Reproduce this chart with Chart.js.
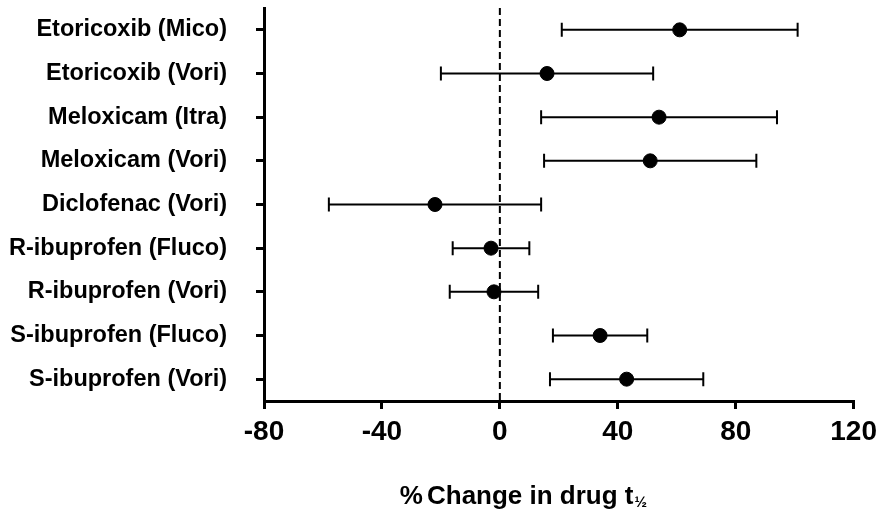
<!DOCTYPE html>
<html>
<head>
<meta charset="utf-8">
<script src="https://cdn.jsdelivr.net/npm/chart.js@4.4.1/dist/chart.umd.min.js"></script>
<style>
  html, body { margin: 0; padding: 0; background: #fff; }
  #wrap { width: 883px; height: 511px; }
</style>
</head>
<body>
<div id="wrap"><canvas id="forest"></canvas></div>
<script>
const labels = [
  'Etoricoxib (Mico)',
  'Etoricoxib (Vori)',
  'Meloxicam (Itra)',
  'Meloxicam (Vori)',
  'Diclofenac (Vori)',
  'R-ibuprofen (Fluco)',
  'R-ibuprofen (Vori)',
  'S-ibuprofen (Fluco)',
  'S-ibuprofen (Vori)'
];
const mean = [61, 16, 54, 51, -22, -3, -2, 34, 43];
const lower = [21, -20, 14, 15, -58, -16, -17, 18, 17];
const upper = [101, 52, 94, 87, 14, 10, 13, 50, 69];
const xTicks = [-80, -40, 0, 40, 80, 120];

const FONT = '"Liberation Sans", Arial, sans-serif';

// whiskers with end caps, drawn through the scales
const errorBars = {
  id: 'errorBars',
  beforeDatasetsDraw(chart) {
    const { ctx, scales: { x, y } } = chart;
    ctx.save();
    ctx.strokeStyle = '#000';
    ctx.lineWidth = 2;
    labels.forEach((lab, i) => {
      const py = y.getPixelForValue(i);
      const x1 = x.getPixelForValue(lower[i]);
      const x2 = x.getPixelForValue(upper[i]);
      ctx.beginPath();
      ctx.moveTo(x1, py); ctx.lineTo(x2, py);
      ctx.moveTo(x1, py - 7); ctx.lineTo(x1, py + 7);
      ctx.moveTo(x2, py - 7); ctx.lineTo(x2, py + 7);
      ctx.stroke();
    });
    ctx.restore();
  }
};

// dashed reference line at zero
const zeroLine = {
  id: 'zeroLine',
  beforeDatasetsDraw(chart) {
    const { ctx, chartArea, scales: { x } } = chart;
    const px = x.getPixelForValue(0);
    ctx.save();
    ctx.strokeStyle = '#000';
    ctx.lineWidth = 2;
    ctx.setLineDash([7, 4]);
    ctx.beginPath();
    ctx.moveTo(px, chartArea.top);
    ctx.lineTo(px, chartArea.bottom);
    ctx.stroke();
    ctx.restore();
  }
};

// axis title with subscript ½
const xTitle = {
  id: 'xTitle',
  afterDraw(chart) {
    const { ctx, chartArea } = chart;
    const pct = '%';
    const main = 'Change in drug t';
    const sub = '\u00BD';
    ctx.save();
    ctx.fillStyle = '#000';
    ctx.textBaseline = 'alphabetic';
    ctx.font = 'bold 26px ' + FONT;
    const wp = ctx.measureText(pct).width;
    const w1 = ctx.measureText(main).width;
    ctx.font = 'bold 15px ' + FONT;
    const w2 = ctx.measureText(sub).width;
    const gap = 4;
    const total = wp + gap + w1 + 1 + w2;
    const cx = chartArea.left + chartArea.width * 0.44;
    const x0 = cx - total / 2;
    const base = 504;
    ctx.font = 'bold 26px ' + FONT;
    ctx.fillText(pct, x0, base);
    ctx.fillText(main, x0 + wp + gap, base);
    ctx.font = 'bold 15px ' + FONT;
    ctx.fillText(sub, x0 + wp + gap + w1 + 1, base + 3);
    ctx.restore();
  }
};

new Chart(document.getElementById('forest'), {
  type: 'scatter',
  data: {
    labels: labels,
    datasets: [{
      data: mean.map((v, i) => ({ x: v, y: labels[i] })),
      backgroundColor: '#000',
      borderColor: '#000',
      pointRadius: 7,
      pointHoverRadius: 7
    }]
  },
  options: {
    responsive: true,
    maintainAspectRatio: false,
    animation: false,
    layout: { padding: { top: 7, right: 0, left: 0, bottom: 0 } },
    plugins: { legend: { display: false }, tooltip: { enabled: false } },
    scales: {
      x: {
        type: 'linear',
        min: -80,
        max: 120,
        afterBuildTicks: (s) => { s.ticks = xTicks.map(v => ({ value: v })); },
        afterFit: (s) => { s.height = 110; },
        border: { display: true, color: '#000', width: 3 },
        grid: { display: true, drawOnChartArea: false, drawTicks: true, tickLength: 8, color: '#000', lineWidth: 3 },
        ticks: { color: '#000', padding: 6, font: { family: FONT, size: 28, weight: 'bold' } }
      },
      y: {
        type: 'category',
        labels: labels,
        offset: true,
        afterFit: (s) => { s.width = 264; s.paddingTop = 0; s.paddingBottom = 0; },
        border: { display: true, color: '#000', width: 3 },
        grid: { display: true, drawOnChartArea: false, drawTicks: true, tickLength: 8, color: '#000', lineWidth: 3 },
        ticks: { color: '#000', padding: 29, font: { family: FONT, size: 23.5, weight: 'bold' } }
      }
    }
  },
  plugins: [zeroLine, errorBars, xTitle]
});
</script>
</body>
</html>
